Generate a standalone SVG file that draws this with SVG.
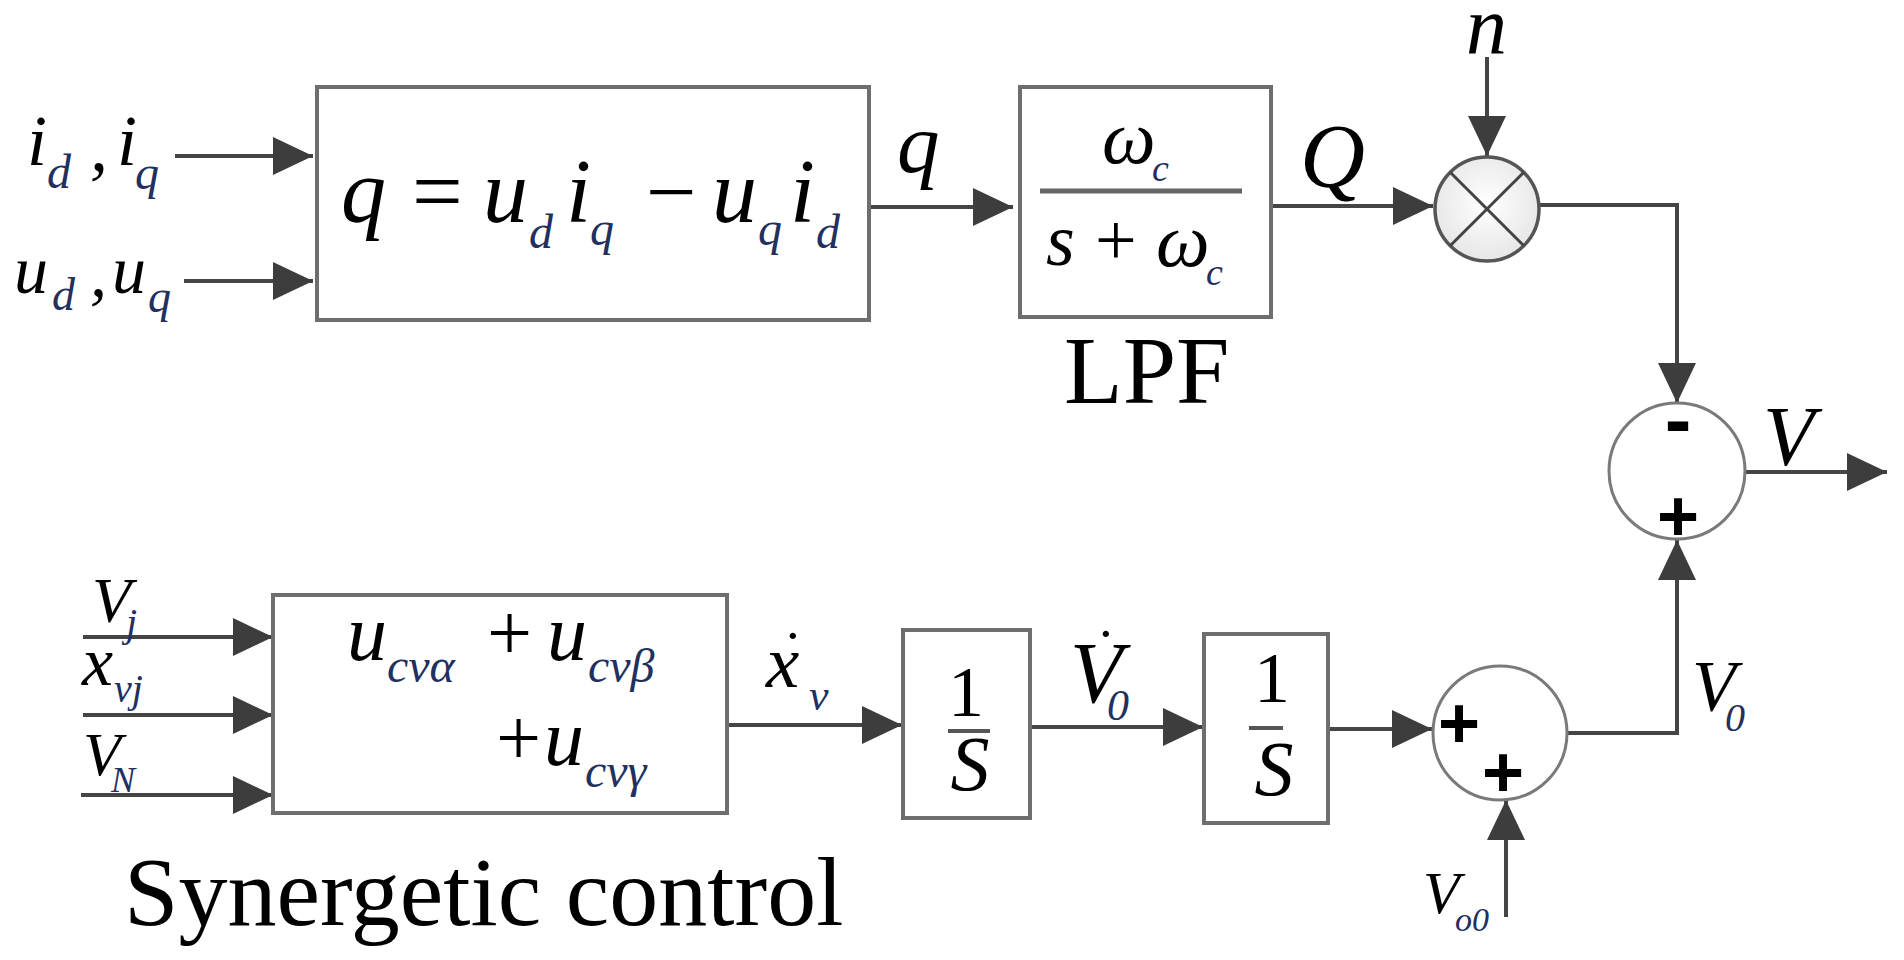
<svg xmlns="http://www.w3.org/2000/svg" width="1904" height="960" viewBox="0 0 1904 960">
<style>
.bg{fill:#ffffff}
.box{fill:#ffffff;stroke:#6e6e6e;stroke-width:4}
.conn{fill:none;stroke:#454545;stroke-width:4}
.sum{fill:#ffffff;stroke:#7a7a7a;stroke-width:3}
.m{font-family:"Liberation Serif","Times New Roman",serif;font-style:italic;fill:#000}
.s{font-family:"Liberation Serif","Times New Roman",serif;font-style:italic;fill:#22305f}
.r{font-family:"Liberation Serif","Times New Roman",serif;fill:#000}
.sg{font-family:"Liberation Sans",Arial,sans-serif;font-weight:bold;fill:#000;text-anchor:middle}
</style>
<defs>
<marker id="ah" markerUnits="userSpaceOnUse" markerWidth="40" markerHeight="38" viewBox="0 0 40 38" refX="40" refY="19" orient="auto">
<path d="M0,0 L40,19 L0,38 Z" fill="#3d3d3d"/>
</marker>
<radialGradient id="mg" cx="0.5" cy="0.45" r="0.6">
<stop offset="0" stop-color="#ffffff"/>
<stop offset="1" stop-color="#e4e4e4"/>
</radialGradient>
</defs>
<rect class="bg" x="0" y="0" width="1904" height="960"/>

<g id="connectors">
<path class="conn" d="M175,156 H313" marker-end="url(#ah)"/>
<path class="conn" d="M184,281 H313" marker-end="url(#ah)"/>
<path class="conn" d="M869,207 H1013" marker-end="url(#ah)"/>
<path class="conn" d="M1256,206 H1433" marker-end="url(#ah)" stroke="#6a6a6a"/>
<path class="conn" d="M1487,57 V156" marker-end="url(#ah)"/>
<path class="conn" d="M1540,205 H1677 V403" marker-end="url(#ah)"/>
<path class="conn" d="M1745,472 H1887" marker-end="url(#ah)"/>
<path class="conn" d="M83,637 H273" marker-end="url(#ah)"/>
<path class="conn" d="M83,715 H273" marker-end="url(#ah)"/>
<path class="conn" d="M81,795 H273" marker-end="url(#ah)"/>
<path class="conn" d="M727,725 H902" marker-end="url(#ah)" stroke="#6a6a6a"/>
<path class="conn" d="M1030,727 H1203" marker-end="url(#ah)"/>
<path class="conn" d="M1328,729 H1432" marker-end="url(#ah)"/>
<path class="conn" d="M1567,733 H1677 V540" marker-end="url(#ah)"/>
<path class="conn" d="M1506,917 V800" marker-end="url(#ah)"/>
</g>

<g id="input-labels">
<text class="m" x="27" y="165" font-size="72">i</text>
<text class="s" x="47" y="188" font-size="48">d</text>
<text class="m" x="90" y="170" font-size="72">,</text>
<text class="m" x="117" y="165" font-size="72">i</text>
<text class="s" x="135" y="189" font-size="48">q</text>
<text class="m" x="14" y="293" font-size="68">u</text>
<text class="s" x="52" y="310" font-size="46">d</text>
<text class="m" x="90" y="296" font-size="68">,</text>
<text class="m" x="112" y="293" font-size="68">u</text>
<text class="s" x="148" y="312" font-size="46">q</text>
</g>

<g id="q-calc">
<rect class="box" x="317" y="87" width="552" height="233"/>
<text class="m" x="341" y="222" font-size="90">q</text>
<text class="r" x="412" y="222" font-size="90">=</text>
<text class="m" x="483" y="222" font-size="90">u</text>
<text class="s" x="529" y="248" font-size="48">d</text>
<text class="m" x="566" y="222" font-size="90">i</text>
<text class="s" x="590" y="245" font-size="48">q</text>
<text class="r" x="646" y="222" font-size="90">−</text>
<text class="m" x="712" y="222" font-size="90">u</text>
<text class="s" x="758" y="245" font-size="48">q</text>
<text class="m" x="790" y="222" font-size="90">i</text>
<text class="s" x="816" y="248" font-size="48">d</text>
</g>

<g id="q-label">
<text class="m" x="897" y="172" font-size="85">q</text>
</g>

<g id="lpf">
<rect class="box" x="1020" y="87" width="251" height="230"/>
<text class="m" x="1102" y="163" font-size="76">ω</text>
<text class="s" x="1152" y="181" font-size="38">c</text>
<line x1="1040" y1="191" x2="1242" y2="191" stroke="#666666" stroke-width="5"/>
<text class="m" x="1046" y="265" font-size="74">s</text>
<text class="r" x="1095" y="265" font-size="74">+</text>
<text class="m" x="1156" y="266" font-size="76">ω</text>
<text class="s" x="1206" y="285" font-size="38">c</text>
<text class="r" x="1064" y="403" font-size="96">LPF</text>
</g>

<g id="Q-label">
<text class="m" x="1300" y="187" font-size="90">Q</text>
</g>

<g id="multiplier">
<circle cx="1487" cy="209" r="52" fill="url(#mg)" stroke="#555555" stroke-width="3.5"/>
<line x1="1450.2" y1="172.2" x2="1523.8" y2="245.8" stroke="#444444" stroke-width="3"/>
<line x1="1523.8" y1="172.2" x2="1450.2" y2="245.8" stroke="#444444" stroke-width="3"/>
</g>

<g id="n-label">
<text class="m" x="1466" y="53" font-size="82">n</text>
</g>

<g id="sum1">
<circle class="sum" cx="1677" cy="471" r="68"/>
<text class="sg" x="1678" y="447" font-size="80">-</text>
<text class="sg" x="1678" y="541" font-size="72">+</text>
</g>

<g id="V-label">
<text class="m" x="1763" y="465" font-size="84">V</text>
</g>

<g id="bottom-input-labels">
<text class="m" x="92" y="622" font-size="64">V</text>
<text class="s" x="126" y="636" font-size="40">j</text>
<text class="m" x="82" y="685" font-size="70">x</text>
<text class="s" x="114" y="702" font-size="40">vj</text>
<text class="m" x="83" y="775" font-size="62">V</text>
<text class="s" x="111" y="792" font-size="36">N</text>
</g>

<g id="synergetic">
<rect class="box" x="273" y="595" width="454" height="218"/>
<text class="m" x="347" y="660" font-size="80">u</text>
<text class="s" x="387" y="682" font-size="48">cvα</text>
<text class="r" x="487" y="660" font-size="80">+</text>
<text class="m" x="547" y="660" font-size="80">u</text>
<text class="s" x="588" y="682" font-size="48">cvβ</text>
<text class="r" x="496" y="765" font-size="80">+</text>
<text class="m" x="544" y="765" font-size="80">u</text>
<text class="s" x="585" y="787" font-size="48">cvγ</text>
<text class="r" x="124" y="925" font-size="98">Synergetic control</text>
</g>

<g id="xv-label">
<text class="m" x="766" y="687" font-size="75">x</text>
<text class="m" x="779" y="672" font-size="60">˙</text>
<text class="s" x="809" y="710" font-size="44">v</text>
</g>

<g id="int1">
<rect class="box" x="903" y="630" width="127" height="188"/>
<text class="r" x="966" y="716" font-size="72" text-anchor="middle">1</text>
<line x1="948" y1="731" x2="990" y2="731" stroke="#555555" stroke-width="4"/>
<text class="m" x="970" y="790" font-size="78" text-anchor="middle">S</text>
</g>

<g id="V0dot-label">
<text class="m" x="1070" y="702" font-size="86">V</text>
<text class="m" x="1092" y="670" font-size="60">˙</text>
<text class="s" x="1107" y="720" font-size="44">0</text>
</g>

<g id="int2">
<rect class="box" x="1204" y="634" width="124" height="189"/>
<text class="r" x="1272" y="702" font-size="72" text-anchor="middle">1</text>
<line x1="1249" y1="728" x2="1283" y2="728" stroke="#555555" stroke-width="4"/>
<text class="m" x="1274" y="795" font-size="78" text-anchor="middle">S</text>
</g>

<g id="sum2">
<circle class="sum" cx="1500" cy="733" r="67"/>
<text class="sg" x="1459" y="748" font-size="72">+</text>
<text class="sg" x="1503" y="797" font-size="72">+</text>
</g>

<g id="V0-label">
<text class="m" x="1692" y="710" font-size="72">V</text>
<text class="s" x="1725" y="731" font-size="40">0</text>
</g>

<g id="Vo0-label">
<text class="m" x="1423" y="913" font-size="60">V</text>
<text class="s" x="1455" y="931" font-size="34">o0</text>
</g>
</svg>
